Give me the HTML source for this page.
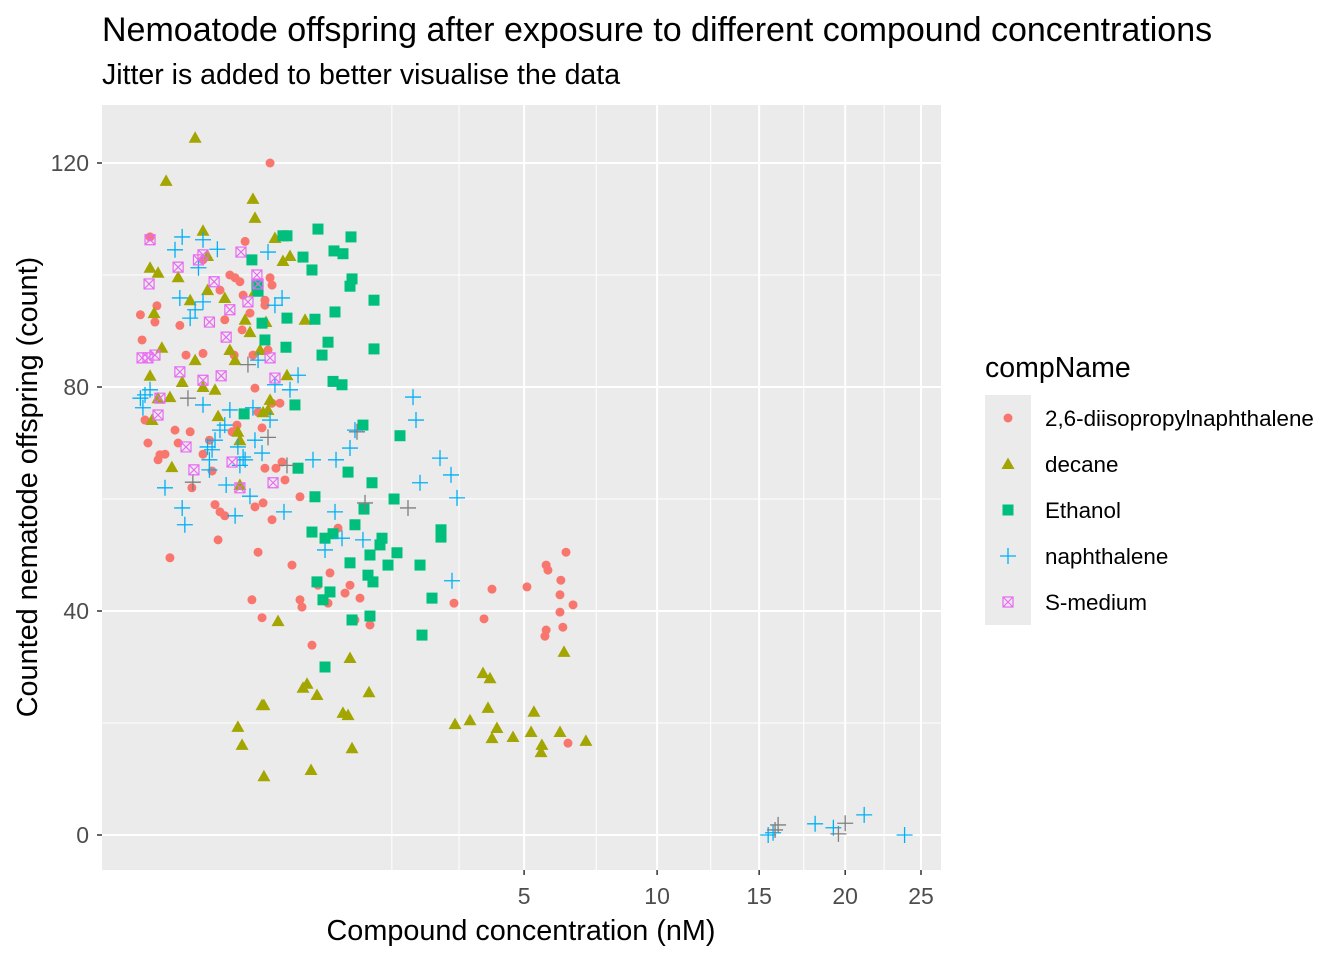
<!DOCTYPE html>
<html><head><meta charset="utf-8"><style>
body{margin:0;background:#fff;}
svg text{font-family:"Liberation Sans",Arial,sans-serif;}
</style></head><body>
<svg id="chart" width="1344" height="960">
<text x="102" y="41" font-size="34" fill="#000">Nemoatode offspring after exposure to different compound concentrations</text>
<text x="102" y="84" font-size="28.5" fill="#000">Jitter is added to better visualise the data</text>
<rect x="102" y="105" width="839" height="765" fill="#EBEBEB"/>
<g id="grid"></g>
<g id="pts"></g>
<g id="axes"></g>
<text transform="translate(37,487) rotate(-90)" text-anchor="middle" font-size="28.8">Counted nematode offspring (count)</text>
<text x="521" y="940" text-anchor="middle" font-size="28.8">Compound concentration (nM)</text>
<g id="legend">
<text x="985" y="377" font-size="28.5">compName</text>
</g>
</svg>
<script>
const xTicks=[5,10,15,20,25];
const xMinor=[1.73,3.18,7.5,12.5,17.5,22.5];
const yTicks=[0,40,80,120];
const yMinor=[20,60,100];
const seriesNames=["2,6-diisopropylnaphthalene","decane","Ethanol","naphthalene","S-medium"];
const dipnX=[0.218,-0.19,-0.18,-0.136,-0.103,-0.112,-0.163,-0.147,-0.09,-0.098,-0.07,-0.053,-0.038,-0.03,-0.026,-0.014,-0.008,-0.006,0,0,0.002,0,0.004,0.007,0.014,0.011,0.023,0.035,0.05,0.066,0.078,0.086,0.107,0.074,0.121,0.131,0.147,0.169,0.186,0.218,0.231,0.186,0.205,0.231,0.287,0.258,0.303,0.326,0.186,0.231,0.131,0.175,0.147,0.116,0.169,0.384,0.456,0.456,0.475,0.576,0.641,0.758,0.782,0.884,0.978,1.048,1.195,1.12,1.352,3.055,3.83,4.05,5.09,5.71,5.77,5.67,5.71,6.18,6.21,6.39,6.18,6.28,6.64,6.46,0.047,0.023,0.014,0.041,0.056];
const dipnY=[120,92.9,88.4,106.8,94.5,91.6,74.1,70,67.9,67,68,49.5,72.3,70,91,85.7,72,62,102.7,86,70.5,68,65,59,57.7,52.7,57,100,99.5,98.8,96.4,106,93.2,90.2,85.7,79.8,75.5,72.7,95.5,99.5,98.2,94.6,86.6,77.1,77.1,65.5,66.6,63.4,65.5,56.3,58.6,59.3,50.5,42,38.8,48.2,60.4,42,40.7,33.9,44.6,41.4,46.8,54.8,43.2,44.6,42.3,38.4,37.5,41.4,38.6,43.9,44.3,48.2,47.3,35.5,36.6,42.9,45.5,50.5,39.8,37.1,41.1,16.4,85.7,92,97.3,72,73.2];
const decX=[-0.003,-0.066,-0.136,-0.098,-0.116,-0.136,-0.082,-0.053,-0.03,-0.021,-0.008,-0.003,0,0.001,0.001,0,0.007,0.011,0.023,0.035,0.05,0.059,0.066,0.086,0.107,0.121,0.131,0.131,0.158,0.192,0.205,0.251,0.31,0.367,0.342,0.505,-0.126,-0.098,-0.047,0.066,0.059,0.074,0.18,0.169,0.18,0.273,0.485,0.525,0.63,0.566,0.95,1.02,1.048,1.077,1.336,3.08,3.457,3.802,3.994,3.939,4.05,4.19,4.66,5.31,5.22,5.57,5.54,6.18,6.32,7.11,0.175,0.218];
const decY=[124.5,116.8,101.3,100.4,93.2,82,87,78.2,99.6,80.9,95.5,84.8,107.9,103.4,97.3,80,79.5,74.8,95.9,86.6,84.8,72,70.5,92,89.8,113.6,110.2,97.1,86.6,91.6,75.9,106.6,102.5,103.4,82.1,92,74.1,78,65.7,62.5,19.3,16.1,23.2,23.2,10.5,38.2,26.3,27,25,11.6,21.8,21.4,31.6,15.5,25.5,19.8,20.5,28.9,28,22.7,17.3,19.1,17.5,22,18.4,16.1,14.8,18.4,32.7,16.8,75.5,77.7];
const ethX=[0.082,0.116,0.147,0.141,0.169,0.186,0.31,0.342,0.342,0.334,0.41,0.485,0.438,0.576,0.641,0.608,0.687,0.758,0.832,0.95,1.062,1.077,1.048,0.845,0.82,0.937,1.418,1.418,1.241,1.02,0.608,0.576,0.722,0.82,0.63,0.782,0.698,1.12,1.257,1.385,1.352,1.401,1.32,1.519,1.554,1.66,1.77,1.825,1.882,2.284,2.543,2.326,2.747,2.747,1.352,1.077,0.722,1.048];
const ethY=[75.2,102.7,97.1,98.2,91.4,88.4,107,107,92.3,87.1,76.8,103.2,65.5,100.9,108.2,92.1,85.7,88,104.3,103.8,106.8,99.3,98,93.4,81,80.4,95.5,86.8,73.2,64.8,60.4,54.1,53,53.8,45.2,43.4,42,55.4,58.2,62.9,50,45.2,46.4,51.8,53,48.2,60,50.4,71.3,48.2,42.3,35.7,54.5,53.2,39.1,38.4,30,48.6];
const napX=[-0.19,-0.175,-0.163,-0.136,-0.07,-0.038,-0.021,-0.026,-0.021,-0.016,-0.008,-0.003,-0.001,0,0,0,0.001,0.004,0.002,0.01,0.007,0.014,0.023,0.026,0.035,0.05,0.059,0.078,0.066,0.086,0.107,0.121,0.131,0.169,0.205,0.218,0.251,0.251,0.303,0.318,0.367,0.438,0.587,0.858,0.722,0.845,0.937,1.048,1.12,1.241,2.139,2.2,2.284,2.724,2.983,3.129,3.007,15.49,15.76,18.17,19.27,21.2,23.87,0.147,0.002];
const napY=[78,76.3,78.6,79.5,62,104.5,106.8,95.9,58.4,55.4,92.3,93.8,101.3,106.3,95.2,76.8,69.3,68.8,67,104.6,70.5,72.3,73.2,62.5,75.9,57,69.3,67.5,66,67,60.5,76.3,70.5,68.2,104.1,74.1,80.4,94.6,95.9,57.7,79.5,82.1,67,67,50.9,57.7,53,69.1,72.3,52.7,78.2,74.1,62.9,67.3,64.3,60.2,45.4,0,0.4,2,1.3,3.6,0,84.8,65.2];
const grayX=[-0.011,-0.005,0.098,0.205,0.342,1.15,1.273,2.038,15.87,16.04,19.58,20.0];
const grayY=[78,63,84,71,66,72,59.3,58.4,0.9,1.8,0.2,2.1];
const smX=[-0.18,-0.147,-0.136,-0.141,-0.112,-0.098,-0.03,-0.026,-0.004,0,-0.001,0,0.002,0.006,0.016,0.026,0.035,0.041,0.066,0.07,0.098,0.141,0.147,0.218,0.251,0.238,-0.014,-0.09];
const smY=[85.2,85.2,106.3,98.4,85.7,75,101.4,82.7,65.2,81.2,102.7,103.6,91.6,98.8,82,88.9,93.8,66.6,62,104.1,95.2,100,98.4,85.2,81.6,62.9,69.3,78];

const NS="http://www.w3.org/2000/svg";
const px0=102,px1=941,py0=105,py1=870;
function xs(v){const s=v<0?-Math.sqrt(-v):Math.sqrt(v);return 203+s*143.6;}
function ys(v){return 835-v*5.6;}
function mk(tag,attrs,parent){const e=document.createElementNS(NS,tag);for(const k in attrs)e.setAttribute(k,attrs[k]);parent.appendChild(e);return e;}
const grid=document.getElementById('grid'),pts=document.getElementById('pts'),axes=document.getElementById('axes');
yMinor.forEach(v=>{const l=mk('line',{x1:px0,x2:px1,y1:ys(v),y2:ys(v),stroke:'#fff','stroke-width':1},grid);

});
xMinor.forEach(v=>{const l=mk('line',{x1:xs(v),x2:xs(v),y1:py0,y2:py1,stroke:'#fff','stroke-width':1},grid);

});
yTicks.forEach(v=>{const l=mk('line',{x1:px0,x2:px1,y1:ys(v),y2:ys(v),stroke:'#fff','stroke-width':2},grid);


const t=mk('line',{x1:px0-5,x2:px0,y1:ys(v),y2:ys(v),stroke:'#333','stroke-width':1.5},axes);


const tx=mk('text',{x:px0-13,y:ys(v)+8,'text-anchor':'end','font-size':23,fill:'#4D4D4D'},axes);tx.textContent=v;

});
xTicks.forEach(v=>{const l=mk('line',{x1:xs(v),x2:xs(v),y1:py0,y2:py1,stroke:'#fff','stroke-width':2},grid);


const t=mk('line',{x1:xs(v),x2:xs(v),y1:py1,y2:py1+5,stroke:'#333','stroke-width':1.5},axes);


const tx=mk('text',{x:xs(v),y:py1+34,'text-anchor':'middle','font-size':23,fill:'#4D4D4D'},axes);tx.textContent=v;

});
function shape(kind,cx,cy,color,parent){
 let e;
 if(kind==='circle'){e=mk('circle',{cx:cx,cy:cy,r:4.5,fill:color},parent);}
 else if(kind==='tri'){e=mk('polygon',{points:`${cx},${cy-6.5} ${cx-6.5},${cy+5} ${cx+6.5},${cy+5}`,fill:color},parent);}
 else if(kind==='square'){e=mk('rect',{x:cx-5.5,y:cy-5.5,width:11,height:11,fill:color},parent);}
 else if(kind==='plus'){e=mk('path',{d:`M${cx-8},${cy}H${cx+8}M${cx},${cy-8}V${cy+8}`,stroke:color,'stroke-width':1.3,fill:'none'},parent);}
 else {e=mk('path',{d:`M${cx-5},${cy-5}h10v10h-10zM${cx-5},${cy-5}L${cx+5},${cy+5}M${cx+5},${cy-5}L${cx-5},${cy+5}`,stroke:color,'stroke-width':1.2,fill:'none'},parent);}
 return e;
}
const series=[[dipnX,dipnY,'circle','#F8766D','point-dipn'],[decX,decY,'tri','#A3A500','point-decane'],[ethX,ethY,'square','#00BF7D','point-ethanol'],[napX,napY,'plus','#00B0F6','point-naphthalene'],[grayX,grayY,'plus','#7F7F7F','point-na'],[smX,smY,'box','#E76BF3','point-s-medium']];
series.forEach(s=>{s[0].forEach((x,i)=>{const e=shape(s[2],xs(x),ys(s[1][i]),s[3],pts);

});});
const leg=document.getElementById('legend');
const legShapes=['circle','tri','square','plus','box'],legCols=['#F8766D','#A3A500','#00BF7D','#00B0F6','#E76BF3'];
seriesNames.forEach((n,i)=>{const y=395+i*46;
const r=mk('rect',{x:985,y:y,width:46,height:46,fill:'#EBEBEB'},leg);


const e=shape(legShapes[i],1008,y+23,legCols[i],leg);


const t=mk('text',{x:1045,y:y+31,'font-size':22.4,fill:'#000'},leg);t.textContent=n;

});
</script>
</body></html>
